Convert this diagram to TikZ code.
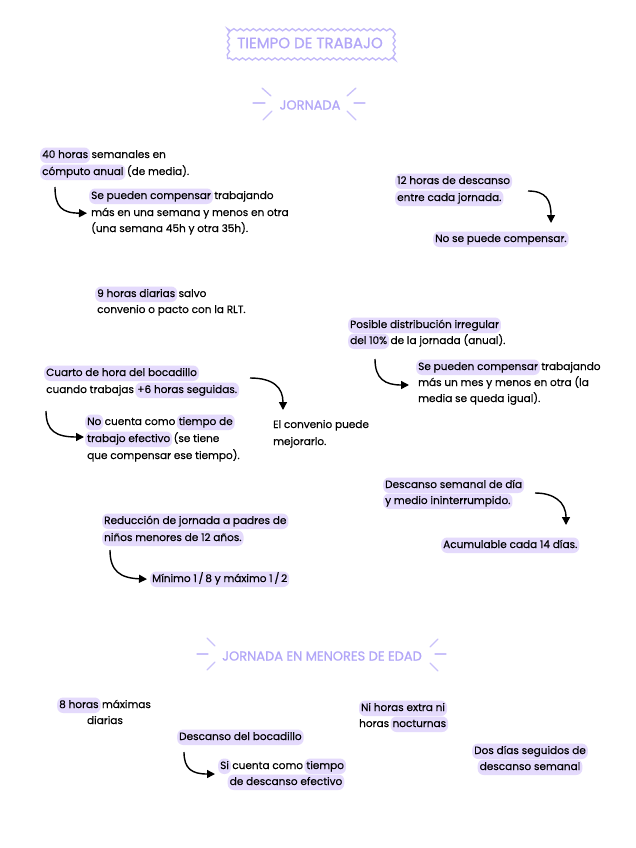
\documentclass[tikz,border=0pt]{standalone}
\usepackage{fontspec}
\setmainfont{Poppins}[FakeBold=0.25]
\newfontfamily\titlef{Poppins}[FakeBold=0.8]
\usetikzlibrary{decorations.pathmorphing,arrows.meta}
\definecolor{hlc}{RGB}{228,218,252}
\definecolor{titlec}{RGB}{178,166,248}
\tikzset{
  seg/.style={anchor=base west, inner xsep=1pt, inner ysep=2.5pt, text height=8pt, text depth=2.5pt, font=\fontsize{10.5}{12}\selectfont},
  hl/.style={seg, inner xsep=2pt, fill=hlc, rounded corners=6pt},
  ttl/.style={text=titlec, font=\titlef\fontsize{13}{15}\selectfont},
  ray/.style={draw=titlec!70, line width=1.3pt, line cap=round},
  arr/.style={line width=1.4pt, -{Triangle[length=8pt,width=8pt]}},
}
\begin{document}
\begin{tikzpicture}[x=1pt,y=-1pt]
\useasboundingbox (0,0) rectangle (636,848);
\fill[white] (0,0) rectangle (636,848);

% titles
\node[ttl, font=\titlef\fontsize{15}{17}\selectfont, minimum width=165pt, minimum height=32pt, draw=titlec!80, line width=1.3pt, decorate, decoration={snake, amplitude=1.1pt, segment length=6.5pt}] (t1) at (310,43) {TIEMPO DE TRABAJO};
\node[ttl] (t2) at (310,105) {JORNADA};
\draw[ray] (262,88) -- (271,96);
\draw[ray] (253,103) -- (265,103);
\draw[ray] (263,120) -- (272,111);
\draw[ray] (356,88) -- (347,96);
\draw[ray] (354,103) -- (365,103);
\draw[ray] (347,111) -- (356,120);

% 40 horas
\node[hl] (a1) at (40,158) {40 horas};
\node[seg] (a2) at (a1.base east) {semanales en};
\node[hl] (a3) at (40,175) {cómputo anual};
\node[seg] (a4) at (a3.base east) {(de media).};
\node[hl] (a5) at (89,199) {Se pueden compensar};
\node[seg] (a6) at (a5.base east) {trabajando};
\node[seg] (a7) at (90,216) {más en una semana y menos en otra};
\node[seg] (a8) at (90,232) {(una semana 45h y otra 35h).};
\coordinate (a9) at (55,187);
\draw[arr, shorten >=3pt] (a9) .. controls (55,207) and (62,213) .. (a7.west);

% 12 horas
\node[hl] (b1) at (395,184) {12 horas de descanso};
\node[hl] (b2) at (395,201) {entre cada jornada.};
\node[hl] (b3) at (433,242) {No se puede compensar.};
\coordinate (b4) at (528,191);
\coordinate (b5) at (551,223);
\draw[arr] (b4) .. controls (546,191) and (551,200) .. (b5);

% 9 horas
\node[hl] (c1) at (95,297) {9 horas diarias};
\node[seg] (c2) at (c1.base east) {salvo};
\node[seg] (c3) at (96,313) {convenio o pacto con la RLT.};

% Cuarto de hora
\node[hl] (d1) at (44,376) {Cuarto de hora del bocadillo};
\node[seg] (d2) at (45,393) {cuando trabajas};
\node[hl] (d3) at (d2.base east) {+6 horas seguidas.};
\node[seg] (d4) at (272,428) {El convenio puede};
\node[seg] (d5) at (272,445) {mejorarlo.};
\node[hl] (d6) at (85,425) {No};
\node[seg] (d7) at (d6.base east) {cuenta como};
\node[hl] (d8) at (d7.base east) {tiempo de};
\node[hl] (d9) at (85,442) {trabajo efectivo};
\node[seg] (d10) at (d9.base east) {(se tiene};
\node[seg] (d11) at (86,459) {que compensar ese tiempo).};
\coordinate (d12) at (250,378);
\coordinate (d13) at (283,410);
\draw[arr] (d12) .. controls (274,378) and (283,388) .. (d13);
\coordinate (d14) at (46,411);
\coordinate (d15) at (84,437);
\draw[arr] (d14) .. controls (46,431) and (56,437) .. (d15);

% Posible distribucion
\node[hl] (e1) at (348,328) {Posible distribución irregular};
\node[hl] (e2) at (348,344) {del 10\%};
\node[seg] (e3) at (e2.base east) {de la jornada (anual).};
\node[hl] (e4) at (416,370) {Se pueden compensar};
\node[seg] (e5) at (e4.base east) {trabajando};
\node[seg] (e6) at (417,386) {más un mes y menos en otra (la};
\node[seg] (e7) at (417,402) {media se queda igual).};
\coordinate (e8) at (375,359);
\coordinate (e9) at (409,385);
\draw[arr] (e8) .. controls (375,379) and (385,385) .. (e9);

% Descanso semanal
\node[hl] (f1) at (383,488) {Descanso semanal de día};
\node[hl] (f2) at (383,504) {y medio ininterrumpido.};
\node[hl] (f3) at (441,548) {Acumulable cada 14 días.};
\coordinate (f4) at (535,493);
\coordinate (f5) at (566,525);
\draw[arr] (f4) .. controls (554,493) and (566,502) .. (f5);

% Reduccion
\node[hl] (g1) at (102,524) {Reducción de jornada a padres de};
\node[hl] (g2) at (102,541) {niños menores de 12 años.};
\node[hl] (g3) at (150,582) {Mínimo 1\,/\,8 y máximo 1\,/\,2};
\coordinate (g4) at (110,550);
\draw[arr, shorten >=3pt] (g4) .. controls (110,571) and (120,578) .. (g3.west);

% Menores
\node[ttl] (t3) at (322,656) {JORNADA EN MENORES DE EDAD};
\draw[ray] (207,638) -- (215,646);
\draw[ray] (197,654) -- (208,654);
\draw[ray] (207,670) -- (215,662);
\draw[ray] (438,639) -- (430,647);
\draw[ray] (435,654) -- (446,654);
\draw[ray] (430,663) -- (438,671);

\node[hl] (h1) at (57,708) {8 horas};
\node[seg] (h2) at (h1.base east) {máximas};
\node[seg, anchor=base] (h3) at (105,724) {diarias};

\node[hl] (i1) at (177,740) {Descanso del bocadillo};
\node[hl] (i2) at (218,769) {Si};
\node[seg] (i3) at (i2.base east) {cuenta como};
\node[hl] (i4) at (i3.base east) {tiempo};
\node[hl, anchor=base] (i5) at (286,785) {de descanso efectivo};
\coordinate (i6) at (184,752);
\coordinate (i7) at (215,774);
\draw[arr] (i6) .. controls (184,769) and (192,774) .. (i7);

\node[hl, anchor=base] (j1) at (403,711) {Ni horas extra ni};
\node[seg] (j2) at (358,727) {horas};
\node[hl] (j3) at (j2.base east) {nocturnas};

\node[hl, anchor=base] (k1) at (530,754) {Dos días seguidos de};
\node[hl, anchor=base] (k2) at (530,770) {descanso semanal};
\end{tikzpicture}
\end{document}
